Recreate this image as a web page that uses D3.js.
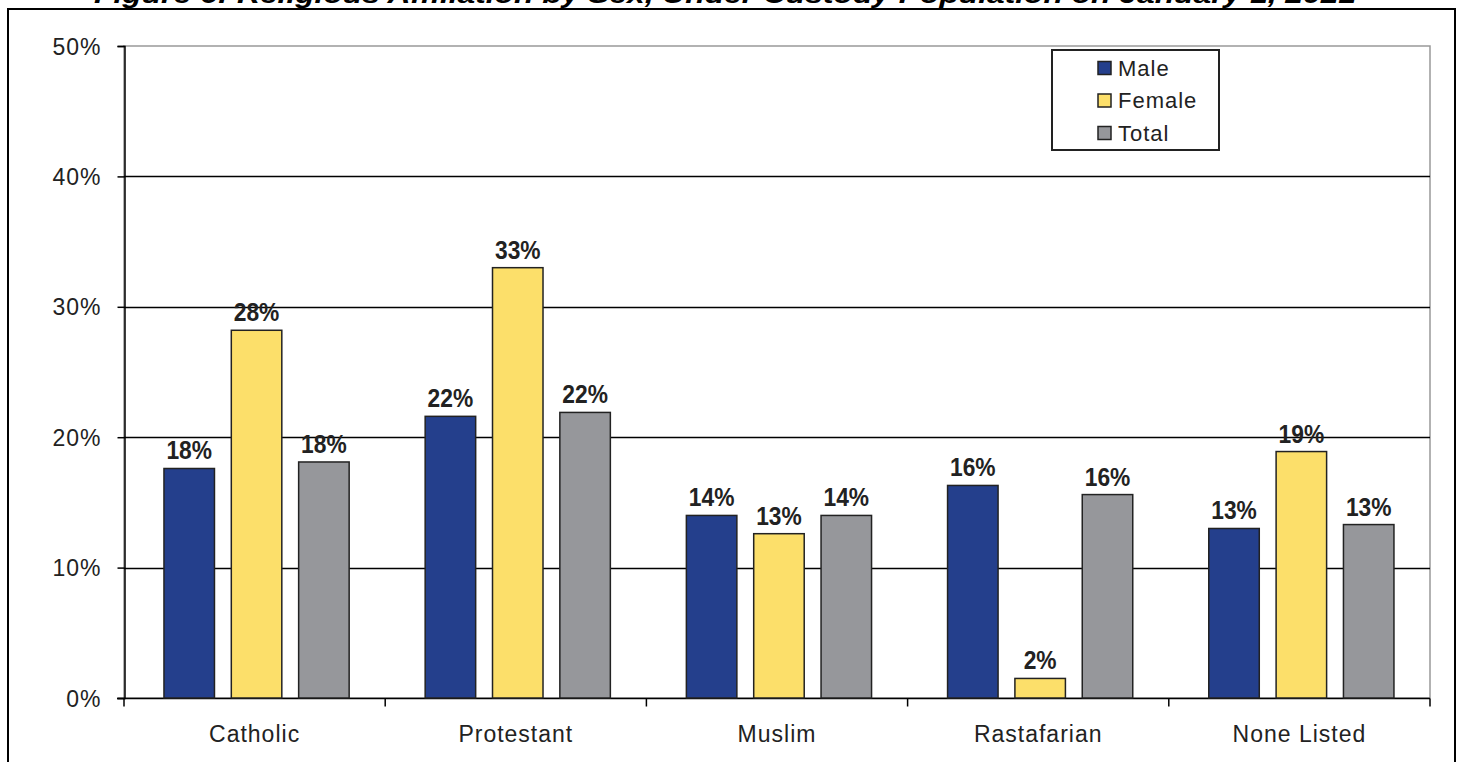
<!DOCTYPE html>
<html><head><meta charset="utf-8">
<script src="https://cdn.jsdelivr.net/npm/d3@7"></script>
<style>
html,body{margin:0;padding:0;background:#fff;}
svg{display:block;}
</style></head>
<body>
<svg id="chart" width="1461" height="762"></svg>
<script>
const title = "Figure 6: Religious Affiliation by Sex, Under Custody Population on January 1, 2021";
const categories = ["Catholic", "Protestant", "Muslim", "Rastafarian", "None Listed"];
const seriesNames = ["Male", "Female", "Total"];
const maleValues   = [17.6, 21.6, 14.0, 16.3, 13.0];
const femaleValues = [28.2, 33.0, 12.6, 1.5, 18.9];
const totalValues  = [18.1, 21.9, 14.0, 15.6, 13.3];
const dataLabels = {
  Male:   ["18%", "22%", "14%", "16%", "13%"],
  Female: ["28%", "33%", "13%", "2%", "19%"],
  Total:  ["18%", "22%", "14%", "16%", "13%"]
};
const yTicks = [0, 10, 20, 30, 40, 50];
const colors = ["#243F8C", "#FCDF6A", "#96979B"];

const seriesValues = [maleValues, femaleValues, totalValues];
const svg = d3.select("#chart");
const plot = {left: 124, right: 1430, top: 46, bottom: 698};

// outer frame
svg.append("rect").attr("x", 8).attr("y", 9).attr("width", 1447).attr("height", 800)
  .attr("fill", "none").attr("stroke", "#000").attr("stroke-width", 2);

// title (cropped at the top edge as in the source image)
svg.append("text").attr("x", 725).attr("y", 3).attr("text-anchor", "middle")
  .attr("font-family", "Liberation Sans, Arial, sans-serif").attr("font-weight", "bold")
  .attr("font-style", "italic").attr("font-size", 25)
  .attr("textLength", 1262).attr("lengthAdjust", "spacingAndGlyphs")
  .text(title);

const x0 = d3.scaleBand().domain(categories).range([plot.left, plot.right]).paddingInner(0).paddingOuter(0);
const bw = x0.bandwidth();
const x1 = d3.scaleBand().domain(seriesNames).range([bw * 0.153, bw * 0.862]).paddingInner(0.25).paddingOuter(0);
const y = d3.scaleLinear().domain([0, 50]).range([plot.bottom, plot.top]);

// plot-area border (gray)
svg.append("rect").attr("x", plot.left).attr("y", plot.top)
  .attr("width", plot.right - plot.left).attr("height", plot.bottom - plot.top)
  .attr("fill", "none").attr("stroke", "#999").attr("stroke-width", 1.5);

// gridlines
svg.append("g").selectAll("line").data(yTicks.filter(d => d > 0 && d < 50)).join("line")
  .attr("x1", plot.left).attr("x2", plot.right)
  .attr("y1", d => Math.round(y(d)) + 0.5).attr("y2", d => Math.round(y(d)) + 0.5)
  .attr("stroke", "#000").attr("stroke-width", 1.3);

// y axis
const yAxis = d3.axisLeft(y).tickValues(yTicks).tickFormat(d => d + "%").tickSize(7).tickPadding(16);
const gy = svg.append("g").attr("transform", `translate(${plot.left + 0.5},0)`).call(yAxis);
gy.select(".domain").attr("stroke", "#000").attr("stroke-width", 1.5);
gy.selectAll(".tick line").attr("stroke", "#000").attr("stroke-width", 1.5);
gy.selectAll(".tick text").attr("font-family", "Liberation Sans, Arial, sans-serif")
  .attr("font-size", 23).attr("letter-spacing", 1).attr("fill", "#222").attr("dy", "0.35em");

// x axis
const gx = svg.append("g").attr("transform", `translate(0,${plot.bottom + 0.5})`);
gx.append("line").attr("x1", plot.left - 7).attr("x2", plot.right).attr("y1", 0).attr("y2", 0)
  .attr("stroke", "#000").attr("stroke-width", 1.5);
const boundaries = categories.map(c => x0(c)).concat([plot.right]);
gx.selectAll("line.tk").data(boundaries).join("line").attr("class", "tk")
  .attr("x1", d => d).attr("x2", d => d).attr("y1", 0).attr("y2", 8)
  .attr("stroke", "#000").attr("stroke-width", 1.5);
gx.selectAll("text").data(categories).join("text")
  .attr("x", d => x0(d) + bw / 2).attr("y", 43).attr("text-anchor", "middle")
  .attr("font-family", "Liberation Sans, Arial, sans-serif").attr("font-size", 23)
  .attr("letter-spacing", 1).attr("fill", "#222").text(d => d);

// bars
const groups = svg.append("g").selectAll("g").data(categories).join("g")
  .attr("transform", d => `translate(${x0(d)},0)`);
const cells = (c, i) => seriesNames.map((s, j) => ({s, j, v: seriesValues[j][i], i}));
groups.selectAll("rect").data(cells).join("rect")
  .attr("x", d => x1(d.s)).attr("width", x1.bandwidth())
  .attr("y", d => y(d.v)).attr("height", d => y(0) - y(d.v))
  .attr("fill", d => colors[d.j]).attr("stroke", "#222").attr("stroke-width", 1.5);
groups.selectAll("text").data(cells).join("text")
  .attr("transform", d => `translate(${x1(d.s) + x1.bandwidth() / 2},${y(d.v) - 9}) scale(0.86,1)`)
  .attr("text-anchor", "middle")
  .attr("font-family", "Liberation Sans Narrow, Arial Narrow, Liberation Sans, sans-serif")
  .attr("font-weight", "bold").attr("font-size", 26.5).attr("fill", "#222")
  .text(d => dataLabels[d.s][d.i]);

// legend
const lg = svg.append("g");
lg.append("rect").attr("x", 1052).attr("y", 50).attr("width", 167).attr("height", 100)
  .attr("fill", "#fff").attr("stroke", "#222").attr("stroke-width", 2);
const ly = d3.scalePoint().domain(seriesNames).range([68, 133]);
lg.selectAll("rect.sw").data(seriesNames).join("rect").attr("class", "sw")
  .attr("x", 1098).attr("y", d => ly(d) - 6.5).attr("width", 13).attr("height", 13)
  .attr("fill", (d, i) => colors[i]).attr("stroke", "#222").attr("stroke-width", 1.5);
lg.selectAll("text").data(seriesNames).join("text")
  .attr("x", 1118).attr("y", d => ly(d)).attr("dy", "0.36em")
  .attr("font-family", "Liberation Sans, Arial, sans-serif").attr("font-size", 22)
  .attr("letter-spacing", 1).attr("fill", "#222").text(d => d);
</script>
</body></html>
